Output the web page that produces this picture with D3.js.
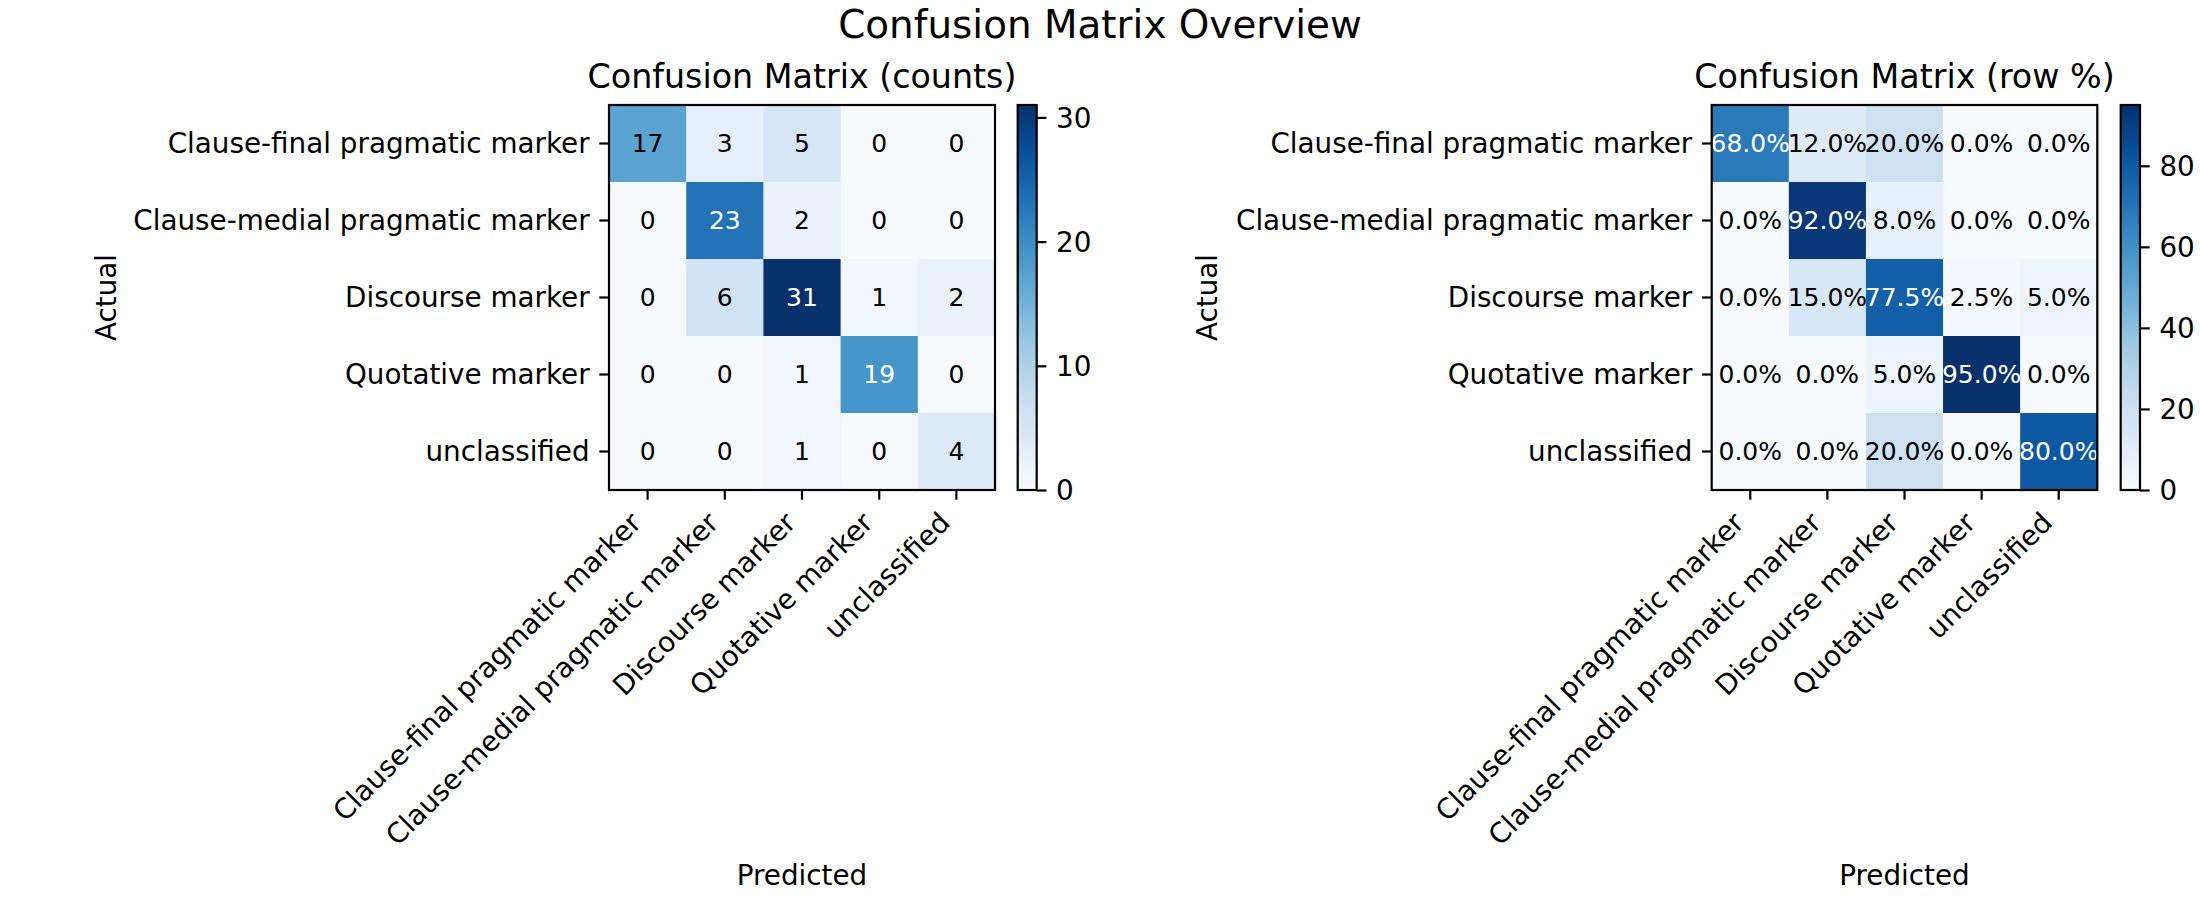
<!DOCTYPE html>
<html>
<head>
<meta charset="utf-8">
<script src="https://cdn.jsdelivr.net/npm/d3@7"></script>
<style>
  html, body { margin: 0; padding: 0; background: #ffffff; }
  svg { display: block; font-family: "DejaVu Sans", sans-serif; }
</style>
</head>
<body>
<svg id="chart" width="2200" height="900"></svg>
<script>
// ---- data ----
const categories = [
  "Clause-final pragmatic marker",
  "Clause-medial pragmatic marker",
  "Discourse marker",
  "Quotative marker",
  "unclassified"
];
const counts = [
  [17, 3, 5, 0, 0],
  [0, 23, 2, 0, 0],
  [0, 6, 31, 1, 2],
  [0, 0, 1, 19, 0],
  [0, 0, 1, 0, 4]
];
const rowPercent = [
  [68.0, 12.0, 20.0, 0.0, 0.0],
  [0.0, 92.0, 8.0, 0.0, 0.0],
  [0.0, 15.0, 77.5, 2.5, 5.0],
  [0.0, 0.0, 5.0, 95.0, 0.0],
  [0.0, 0.0, 20.0, 0.0, 80.0]
];
const countTicks = [0, 10, 20, 30];
const percentTicks = [0, 20, 40, 60, 80];
const blues = ["#f7fbff", "#deebf7", "#c6dbef", "#9ecae1", "#6baed6", "#4292c6", "#2171b5", "#08519c", "#08306b"];

// ---- layout ----
const svg = d3.select("#chart");
const FONT = 27.8;      // 10pt at 200dpi
const TICK = 9.7;       // 3.5pt
const PAD = 9.7;
const LW = 2.2;         // 0.8pt

svg.append("text")
  .attr("x", 1100).attr("y", 38)
  .attr("text-anchor", "middle")
  .attr("font-size", 38.9)
  .text("Confusion Matrix Overview");

function panel(cfg) {
  const g = svg.append("g");
  const vals = cfg.values;
  const vmax = d3.max(vals.flat());
  const cmap = d3.scaleLinear()
    .domain(d3.range(blues.length).map(i => i / (blues.length - 1)))
    .range(blues)
    .interpolate(d3.interpolateRgb)
    .clamp(true);
  const norm = d3.scaleLinear().domain([0, vmax]).range([0, 1]);
  const color = v => cmap(norm(v));

  const x = d3.scaleBand().domain(categories).range([cfg.x0, cfg.x1]);
  const y = d3.scaleBand().domain(categories).range([cfg.y0, cfg.y1]);

  // cells
  const cells = [];
  vals.forEach((row, i) => row.forEach((v, j) => cells.push({ r: categories[i], c: categories[j], v })));
  g.selectAll("rect.cell").data(cells).enter().append("rect")
    .attr("class", "cell")
    .attr("x", d => x(d.c))
    .attr("y", d => y(d.r))
    .attr("width", x.bandwidth() + 0.5)
    .attr("height", y.bandwidth() + 0.5)
    .attr("fill", d => color(d.v));

  g.selectAll("text.ann").data(cells).enter().append("text")
    .attr("class", "ann")
    .attr("x", d => x(d.c) + x.bandwidth() / 2)
    .attr("y", d => y(d.r) + y.bandwidth() / 2)
    .attr("text-anchor", "middle")
    .attr("dominant-baseline", "central")
    .attr("font-size", 25)
    .attr("fill", d => d.v > vmax * 0.55 ? "#ffffff" : "#000000")
    .text(d => cfg.fmt(d.v));

  // frame
  g.append("rect")
    .attr("x", cfg.x0).attr("y", cfg.y0)
    .attr("width", cfg.x1 - cfg.x0).attr("height", cfg.y1 - cfg.y0)
    .attr("fill", "none").attr("stroke", "#000").attr("stroke-width", LW);

  // y axis
  const ya = g.append("g").attr("transform", `translate(${cfg.x0},0)`)
    .call(d3.axisLeft(y).tickSize(TICK).tickPadding(PAD));
  ya.select(".domain").remove();
  ya.selectAll(".tick line").attr("stroke", "#000").attr("stroke-width", LW);
  ya.selectAll(".tick text").attr("font-size", FONT).attr("fill", "#000")
    .attr("font-family", "DejaVu Sans").attr("dy", "0.35em");

  // x axis
  const xa = g.append("g").attr("transform", `translate(0,${cfg.y1})`)
    .call(d3.axisBottom(x).tickSize(TICK).tickPadding(PAD));
  xa.select(".domain").remove();
  xa.selectAll(".tick line").attr("stroke", "#000").attr("stroke-width", LW);
  xa.selectAll(".tick text")
    .attr("font-size", FONT).attr("fill", "#000").attr("font-family", "DejaVu Sans")
    .attr("y", null).attr("dy", null)
    .attr("text-anchor", "end")
    .attr("transform", `translate(${-0.236 * FONT * 0.7071},${TICK + PAD + 0.76 * FONT * 0.7071}) rotate(-45)`);

  // labels
  const cx = (cfg.x0 + cfg.x1) / 2, cy = (cfg.y0 + cfg.y1) / 2;
  g.append("text").attr("x", cx).attr("y", cfg.y0 - 16.7)
    .attr("text-anchor", "middle").attr("font-size", 33.3).text(cfg.title);
  g.append("text").attr("x", cx).attr("y", 885)
    .attr("text-anchor", "middle").attr("font-size", FONT).text("Predicted");
  g.append("text")
    .attr("transform", `translate(${cfg.actualX},${cy}) rotate(-90)`)
    .attr("text-anchor", "middle").attr("dominant-baseline", "central")
    .attr("font-size", FONT).text("Actual");

  // colorbar
  const cb = d3.scaleLinear().domain([0, vmax]).range([cfg.y1, cfg.y0]);
  const gradId = "grad" + cfg.id;
  const grad = svg.append("defs").append("linearGradient").attr("id", gradId)
    .attr("x1", 0).attr("y1", 1).attr("x2", 0).attr("y2", 0);
  d3.range(0, 1.0001, 1 / 64).forEach(t => {
    grad.append("stop").attr("offset", t).attr("stop-color", color(t * vmax));
  });
  g.append("rect")
    .attr("x", cfg.cb0).attr("y", cfg.y0)
    .attr("width", cfg.cb1 - cfg.cb0).attr("height", cfg.y1 - cfg.y0)
    .attr("fill", `url(#${gradId})`)
    .attr("stroke", "#000").attr("stroke-width", LW);
  const ca = g.append("g").attr("transform", `translate(${cfg.cb1},0)`)
    .call(d3.axisRight(cb).tickValues(cfg.ticks).tickFormat(d3.format("d")).tickSize(TICK).tickPadding(PAD));
  ca.select(".domain").remove();
  ca.selectAll(".tick line").attr("stroke", "#000").attr("stroke-width", LW);
  ca.selectAll(".tick text").attr("font-size", FONT).attr("fill", "#000")
    .attr("font-family", "DejaVu Sans").attr("dy", "0.35em");
}

panel({
  id: "a", values: counts, ticks: countTicks, title: "Confusion Matrix (counts)",
  x0: 609, x1: 995, y0: 105, y1: 490, cb0: 1017.7, cb1: 1036.7, actualX: 106,
  fmt: v => String(v)
});
panel({
  id: "b", values: rowPercent, ticks: percentTicks, title: "Confusion Matrix (row %)",
  x0: 1711.7, x1: 2097.3, y0: 105, y1: 490, cb0: 2120.7, cb1: 2140, actualX: 1207,
  fmt: v => v.toFixed(1) + "%"
});
</script>
</body>
</html>
